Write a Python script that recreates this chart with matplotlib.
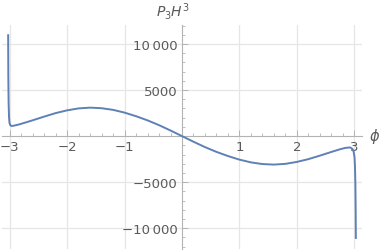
import matplotlib
matplotlib.use("Agg")
import matplotlib.pyplot as plt
from matplotlib.ticker import FixedLocator, MultipleLocator

# data
phi = [-3.028, -3.025, -3.02, -3.013, -3.005, -2.99, -2.97, -2.93, -2.85, -2.75, -2.6,
       -2.4, -2.2, -2.0, -1.8, -1.6, -1.4, -1.2, -1.0, -0.8, -0.6, -0.4, -0.2, 0.0,
       0.2, 0.4, 0.6, 0.8, 1.0, 1.2, 1.4, 1.6, 1.8, 2.0, 2.2, 2.4, 2.6, 2.75, 2.85,
       2.93, 2.97, 2.99, 3.005, 3.013, 3.02, 3.025, 3.028]
p3h3 = [10950, 6500, 3600, 2100, 1450, 1180, 1100, 1130, 1250, 1430, 1720,
        2120, 2500, 2800, 3010, 3090, 3030, 2850, 2550, 2160, 1710, 1190, 610, 0,
        -610, -1190, -1710, -2160, -2550, -2850, -3030, -3090, -3010, -2800, -2500,
        -2120, -1720, -1430, -1270, -1230, -1400, -1700, -2300, -3300, -5200, -8000, -11050]

xticks = [-3, -2, -1, 1, 2, 3]
xticklabels = ["\u22123", "\u22122", "\u22121", "1", "2", "3"]
yticks = [-10000, -5000, 5000, 10000]
yticklabels = ["\u221210\u2009000", "\u22125000", "5000", "10\u2009000"]

W, H = 382, 251
fig = plt.figure(figsize=(W / 100, H / 100), dpi=100)
left_px, right_px, top_px, bot_px = 2.3, 361.7, 26, 250
ax = fig.add_axes([left_px / W, 1 - bot_px / H, (right_px - left_px) / W, (bot_px - top_px) / H])
ax.set_xlim(-3.13, 3.13)
ax.set_ylim(-12250, 12060)

axc = "#b3b3b3"
txtc = "#5a5a5a"
gridc = "#e6e6e6"

for g in xticks:
    ax.axvline(g, color=gridc, lw=0.9, zorder=0)
for g in yticks:
    ax.axhline(g, color=gridc, lw=0.9, zorder=0)

ax.plot(phi, p3h3, color="#5E81B5", lw=1.4, zorder=3, solid_joinstyle="round")

for s in ["top", "right"]:
    ax.spines[s].set_visible(False)
ax.spines["left"].set_position(("data", 0))
ax.spines["bottom"].set_position(("data", 0))
for s in ["left", "bottom"]:
    ax.spines[s].set_color(axc)
    ax.spines[s].set_linewidth(0.8)

ax.xaxis.set_major_locator(FixedLocator(xticks))
ax.set_xticklabels(xticklabels)
ax.xaxis.set_minor_locator(MultipleLocator(0.2))
ax.yaxis.set_major_locator(FixedLocator(yticks))
ax.set_yticklabels(yticklabels)
ax.yaxis.set_minor_locator(MultipleLocator(1000))

ax.tick_params(which="both", direction="in", color=axc, labelcolor=txtc, labelsize=9.5)
ax.tick_params(which="major", length=4, width=0.7)
ax.tick_params(which="minor", length=2.5, width=0.6)
ax.tick_params(axis="x", pad=3)
ax.tick_params(axis="y", pad=3)

fig.text(173 / W, 1 - 12 / H, r"$P_3H^3$", color=txtc, fontsize=10, ha="center", va="center")
fig.text(375 / W, 1 - 137 / H, r"$\phi$", color=txtc, fontsize=10.5, ha="center", va="center")

fig.savefig("out.png", dpi=100)
